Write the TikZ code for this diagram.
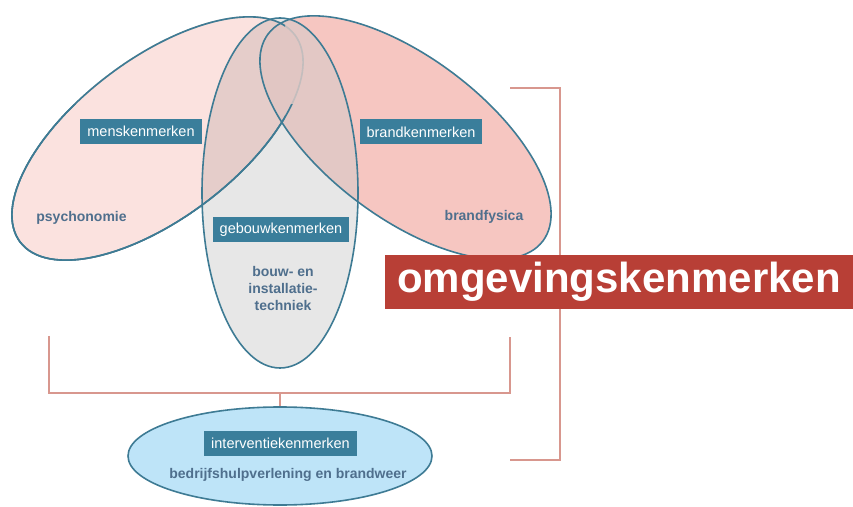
\documentclass[tikz,border=0pt]{standalone}
\usepackage{fontspec}
\setmainfont{Liberation Sans}
\usetikzlibrary{shapes.geometric}

\definecolor{menspink}{HTML}{FBE2DF}
\definecolor{brandpink}{HTML}{F6C6C1}
\definecolor{bouwgrey}{HTML}{E7E7E7}
\definecolor{mixmens}{HTML}{E5CDCA}
\definecolor{mixbrand}{HTML}{E3C8C5}
\definecolor{mixall}{HTML}{E1C6C3}
\definecolor{rimblue}{HTML}{3E7B94}
\definecolor{rimfaint}{HTML}{C3BDBD}
\definecolor{tagblue}{HTML}{3A7E9B}
\definecolor{bodyblue}{HTML}{4F6F8D}
\definecolor{intblue}{HTML}{BEE4F8}
\definecolor{bracketred}{HTML}{D8978E}
\definecolor{bannerred}{HTML}{B83F36}

% the three overlapping ellipses
\newcommand\ellmens{(157.5,367.5) ellipse [x radius=172, y radius=80]}
\newcommand\ellbrand{(405.5,368.5) ellipse [x radius=172, y radius=80]}
\newcommand\ellbouw{(280,313) ellipse [x radius=78, y radius=175]}

\begin{document}
\begin{tikzpicture}[x=1pt,y=1pt,
  mensrot/.style={rotate around={37:(157.5,367.5)}},
  brandrot/.style={rotate around={-37:(405.5,368.5)}},
  rim/.style={draw=rimblue, line width=1.6pt},
  tag/.style={fill=tagblue, text=white, font=\fontsize{14.5}{16}\selectfont,
    minimum height=25pt, inner xsep=7pt, inner ysep=0pt},
  body/.style={text=bodyblue, font=\bfseries\fontsize{14}{17}\selectfont, align=center},
  bracket/.style={draw=bracketred, line width=2pt},
  banner/.style={fill=bannerred, text=white, font=\bfseries\fontsize{42}{42}\selectfont,
    minimum width=468pt, minimum height=54pt, inner sep=0pt},
]
\useasboundingbox (0,0) rectangle (853,506);

% fills
\fill[menspink, mensrot] \ellmens;
\fill[brandpink, brandrot] \ellbrand;
\fill[bouwgrey] \ellbouw;
\begin{scope}
  \clip[mensrot] \ellmens;
  \fill[mixmens] \ellbouw;
\end{scope}
\begin{scope}
  \clip[brandrot] \ellbrand;
  \fill[mixbrand] \ellbouw;
  \begin{scope}
    \clip[mensrot] \ellmens;
    \fill[mixall] \ellbouw;
  \end{scope}
\end{scope}

% outlines: the tip of the left ellipse shows faintly through the middle one
\draw[rim, draw=rimfaint, mensrot] \ellmens;
\begin{scope}
  \clip (0,0) rectangle (285,506);
  \draw[rim, mensrot] \ellmens;
\end{scope}
\begin{scope}
  \clip (0,0) rectangle (853,401);
  \draw[rim, mensrot] \ellmens;
\end{scope}
\draw[rim] \ellbouw;
\draw[rim, brandrot] \ellbrand;

% intervention ellipse
\node[ellipse, draw=rimblue, line width=1.6pt, fill=intblue,
  minimum width=304pt, minimum height=98pt, inner sep=0pt] (interv) at (280,50) {};

% brackets
\coordinate (lbtop) at (49,170);
\coordinate (lbend) at (510,113);
\coordinate (rbtop) at (510,169);
\coordinate (stem) at (280,113);
\draw[bracket] (lbtop) |- (lbend) -- (rbtop);
\draw[bracket] (stem) -- (interv.north);
\coordinate (bigtop) at (510,418);
\coordinate (bigbot) at (510,46);
\draw[bracket] (bigtop) -- ++(50,0) |- (bigbot);

% labels
\node[tag] (mens) at (141,374.5) {menskenmerken};
\node[tag] (brand) at (421,374) {brandkenmerken};
\node[tag] (bouw) at (281,276.5) {gebouwkenmerken};
\node[tag] (intervtag) at (280.5,62.5) {interventiekenmerken};

\node[body] (psy) at (81.5,288) {psychonomie};
\node[body] (fys) at (484,289) {brandfysica};
\node[body] (tech) at (283,218) {bouw- en\\installatie-\\techniek};
\node[body] (bhv) at (288,31) {bedrijfshulpverlening en brandweer};

% banner
\node[banner] (omg) at (619,224) {omgevingskenmerken};
\end{tikzpicture}
\end{document}
